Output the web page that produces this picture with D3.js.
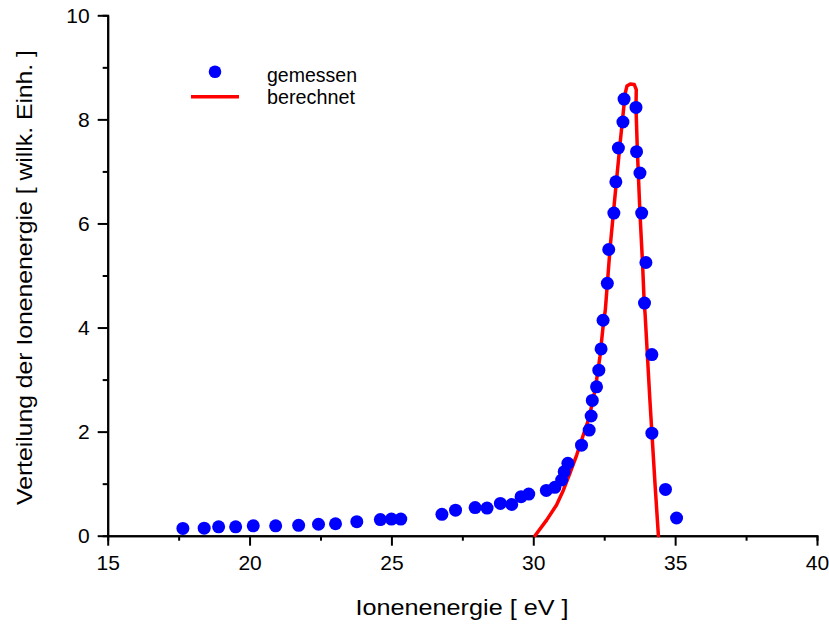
<!DOCTYPE html>
<html><head><meta charset="utf-8">
<script src="https://cdn.jsdelivr.net/npm/d3@7"></script>
<style>
body{margin:0;background:#fff;}
svg text{font-family:"Liberation Sans",Arial,sans-serif;fill:#000;}
</style></head>
<body><svg id="c" width="829" height="625"></svg>
<script>
const measX = [17.65,18.40,18.91,19.51,20.13,20.92,21.73,22.43,23.03,23.78,24.61,25.0,25.33,26.78,27.26,27.95,28.37,28.84,29.24,29.57,29.84,30.46,30.76,31.0,31.09,31.22,31.70,31.97,32.04,32.08,32.23,32.31,32.39,32.46,32.61,32.66,32.84,32.91,33.0,33.16,33.20,33.62,33.64,33.76,33.82,33.97,33.92,34.18,34.18,34.66,35.05];
const measY = [0.14,0.145,0.17,0.17,0.19,0.19,0.20,0.22,0.23,0.27,0.31,0.32,0.32,0.41,0.49,0.54,0.53,0.62,0.60,0.75,0.80,0.87,0.93,1.07,1.23,1.39,1.74,2.03,2.30,2.60,2.86,3.18,3.59,4.14,4.85,5.50,6.20,6.80,7.45,7.95,8.39,8.23,7.38,6.97,6.20,5.25,4.47,3.48,1.97,0.89,0.34];
const calcX = [30.06,30.47,30.82,31.06,31.29,31.53,31.76,31.94,32.11,32.23,32.35,32.46,32.54,32.71,32.89,33.06,33.24,33.30,33.42,33.56,33.63,33.62,33.67,33.76,33.85,33.91,33.94,34.11,34.29,34.41];
const calcY = [0,0.30,0.59,0.875,1.20,1.55,1.93,2.22,2.61,2.99,3.44,4.02,4.34,5.55,6.58,7.54,8.50,8.64,8.68,8.67,8.57,8.23,7.38,6.20,5.25,4.47,4.27,2.61,1.0,0];
const xMajor = [15,20,25,30,35,40];
const xMinor = [17.5,22.5,27.5,32.5,37.5];
const yMajor = [0,2,4,6,8,10];
const yMinor = [1,3,5,7,9];
const legendLabels = ["gemessen","berechnet"];
const xTitle = "Ionenenergie [ eV ]";
const yTitle = "Verteilung der Ionenenergie [ willk. Einh. ]";

const svg = d3.select("#c");
const x = d3.scaleLinear().domain([15,40]).range([107.7,817]);
const y = d3.scaleLinear().domain([0,10]).range([535.7,15.3]);

function styleAxis(g){
  g.select(".domain").attr("stroke","#000").attr("stroke-width",2);
  g.selectAll(".tick line").attr("stroke","#000").attr("stroke-width",2);
  g.selectAll(".tick text").attr("font-size","21px").attr("fill","#000");
}
svg.append("g").attr("transform",`translate(0,${y(0)})`)
  .call(d3.axisBottom(x).tickValues(xMinor).tickSize(5).tickFormat(""))
  .call(styleAxis);
svg.append("g").attr("transform",`translate(${x(15)},0)`)
  .call(d3.axisLeft(y).tickValues(yMinor).tickSize(5).tickFormat(""))
  .call(styleAxis);
svg.append("g").attr("transform",`translate(0,${y(0)})`)
  .call(d3.axisBottom(x).tickValues(xMajor).tickSize(10).tickPadding(9).tickSizeOuter(0).tickFormat(d3.format("d")))
  .call(styleAxis);
svg.append("g").attr("transform",`translate(${x(15)},0)`)
  .call(d3.axisLeft(y).tickValues(yMajor).tickSize(10).tickPadding(8).tickSizeOuter(0).tickFormat(d3.format("d")))
  .call(styleAxis);

const calc = calcX.map((v,i)=>[v,calcY[i]]);
svg.append("path").datum(calc)
  .attr("fill","none").attr("stroke","#ff0000").attr("stroke-width",3.5)
  .attr("stroke-linejoin","round").attr("stroke-linecap","round")
  .attr("d",d3.line().x(d=>x(d[0])).y(d=>y(d[1])).curve(d3.curveLinear));

const meas = measX.map((v,i)=>[v,measY[i]]);
svg.append("g").selectAll("circle").data(meas).join("circle")
  .attr("cx",d=>x(d[0])).attr("cy",d=>y(d[1])).attr("r",6.5).attr("fill","#0000ff");

const lg = svg.append("g");
lg.append("circle").attr("cx",215).attr("cy",71.7).attr("r",6.3).attr("fill","#0000ff");
lg.append("line").attr("x1",191).attr("x2",239).attr("y1",96.7).attr("y2",96.7)
  .attr("stroke","#ff0000").attr("stroke-width",3.5);
lg.append("text").attr("x",267).attr("y",81.5).attr("font-size","20px")
  .attr("textLength",90).attr("lengthAdjust","spacingAndGlyphs").text(legendLabels[0]);
lg.append("text").attr("x",267).attr("y",104.3).attr("font-size","20px")
  .attr("textLength",88).attr("lengthAdjust","spacingAndGlyphs").text(legendLabels[1]);

svg.append("text").attr("x",462).attr("y",615).attr("text-anchor","middle")
  .attr("font-size","22px").attr("textLength",213).attr("lengthAdjust","spacingAndGlyphs").text(xTitle);
svg.append("text").attr("transform","translate(32,277.5) rotate(-90)").attr("text-anchor","middle")
  .attr("font-size","22px").attr("textLength",455).attr("lengthAdjust","spacingAndGlyphs").text(yTitle);
</script></body></html>
